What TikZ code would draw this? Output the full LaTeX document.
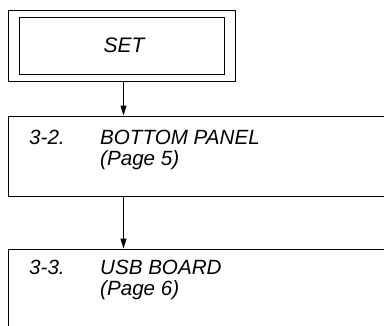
\documentclass[tikz,border=0pt]{standalone}
\usepackage{fontspec}
\setmainfont{Liberation Sans}
\usetikzlibrary{arrows.meta}
\begin{document}
\begin{tikzpicture}[x=1pt,y=-1pt,
  box/.style={draw=black, line width=1.1pt, inner sep=0pt, anchor=north west},
  lbl/.style={inner sep=0pt, anchor=base west, font=\itshape\fontsize{20.6}{24}\selectfont},
  arr/.style={line width=1pt, -{Triangle[length=10pt,width=6pt]}, shorten >=0.5pt}]
\useasboundingbox (0,0) rectangle (384,325);
\node[box, minimum width=227pt, minimum height=71pt] (outer) at (8,10) {};
\node[box, minimum width=205pt, minimum height=57pt] (inner) at (19,17) {};
\node[inner sep=0pt, anchor=base, font=\itshape\fontsize{21}{25}\selectfont] (set) at (124,52.5) {SET};
\node[box, minimum width=420pt, minimum height=80pt] (b2) at (8,116) {};
\node[lbl] (b2num) at (29,144) {3-2.};
\node[lbl] (b2t) at (100,144) {BOTTOM PANEL};
\node[lbl] (b2p) at (100,165.5) {(Page 5)};
\node[box, minimum width=420pt, minimum height=120pt] (b3) at (8,249) {};
\node[lbl] (b3num) at (29,274) {3-3.};
\node[lbl] (b3t) at (100,274) {USB BOARD};
\node[lbl] (b3p) at (100,295.5) {(Page 6)};
\coordinate (ax) at (123.5,0);
\draw[arr] (ax |- outer.south) -- (ax |- b2.north);
\draw[arr] (ax |- b2.south) -- (ax |- b3.north);
\end{tikzpicture}
\end{document}
